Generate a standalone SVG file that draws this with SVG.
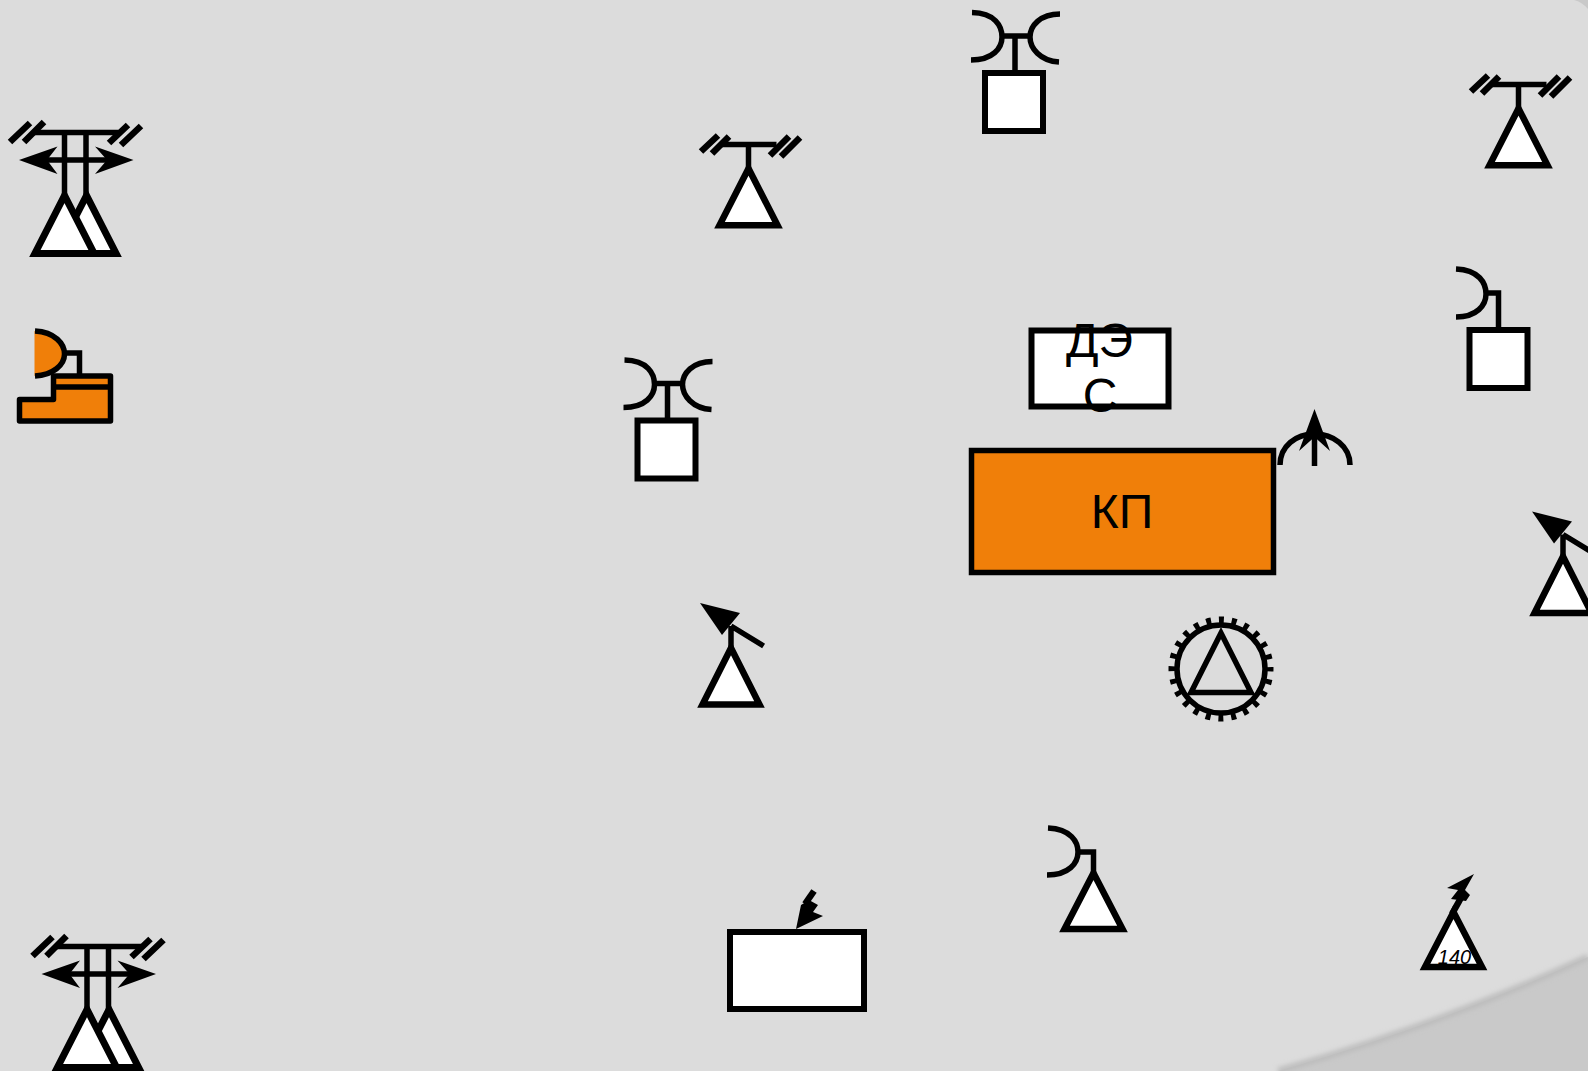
<svg xmlns="http://www.w3.org/2000/svg" width="1588" height="1071" viewBox="0 0 1588 1071">
<style>
.s{fill:none;stroke:#000;stroke-width:5.5}
.h{fill:none;stroke:#000;stroke-width:6.5}
.t{fill:#fff;stroke:#000;stroke-width:6.5}
.d{fill:#fff;stroke:#000;stroke-width:7}
.o{fill:#f07f09;stroke:#000;stroke-width:5.5}
.w{fill:#fff;stroke:#000;stroke-width:6}
.k{fill:#000;stroke:none}
.x{font-family:"Liberation Sans",Arial,sans-serif;font-size:48px;fill:#000;text-anchor:middle}
</style>
<defs>
<filter id="b" x="-10%" y="-10%" width="120%" height="120%"><feGaussianBlur stdDeviation="2.500"/></filter>
<g id="bar">
<path class="s" d="M-28 0H28"/>
<path class="h" d="M-47.500 7L-30.500 -9M-36.500 9L-19.500 -8M21.500 11L40.500 -8M32.500 12L51.500 -7"/>
</g>
<g id="tower">
<use href="#bar"/>
<path class="s" d="M0 0V27"/>
<path class="t" d="M0 24L-29 80.700H29Z"/>
</g>
<g id="double">
<path class="s" d="M-31 0H54"/>
<path class="h" d="M-54.500 9.500L-34.500 -9.500M-40.500 9.500L-20.500 -10.500M44.500 10.500L63.500 -7.500M56.500 12.500L76.500 -6.500"/>
<path class="s" d="M0 0V64M21.500 0V64"/>
<path class="s" d="M-20 27.500H45"/>
<path class="k" d="M-45.500 27.500L-7 14L-17.500 27.500L-7 41.500ZM69 27.500L30.500 14L42.500 27.500L30.500 41.500Z"/>
<path class="d" d="M22 63L-7.600 121H51.600Z"/>
<path class="d" d="M0 63L-29.600 121H29.600Z"/>
</g>
<g id="dishbox">
<path class="s" d="M-43 -23.500C-20 -23 -13 -10 -13 1C-13 12 -22 24 -44 24"/>
<path class="s" d="M45 -22C25 -22 15 -10 15 1C15 12 25 25 44 26"/>
<path class="s" d="M-13 0H15M0 0V36"/>
<rect class="w" x="-30" y="37" width="58" height="58"/>
</g>
<g id="arrow">
<path class="s" d="M0 23V46M0 23L32.600 43"/>
<path class="k" d="M-31 0L9 10L-9 32Z"/>
<path class="t" d="M0 45L-28.500 101.500H28.500Z"/>
</g>
</defs>
<rect width="1588" height="1071" fill="#dcdcdc"/>
<g id="page-curl">
<path d="M1278 1071Q1440 1025 1588 957V1071Z" fill="#c9c9c9"/>
<path d="M1278 1071Q1440 1025 1588 957" fill="none" stroke="#bcbcbc" stroke-width="6" filter="url(#b)"/>
<path d="M1574 0Q1582 2 1588 9V0Z" fill="#c9c9c9"/>
</g>
<g id="connectors"></g>
<g id="radar-double-1"><use href="#double" x="64.500" y="132.500"/></g>
<g id="radar-double-2"><use href="#double" x="87" y="946.500"/></g>
<g id="tower-1"><use href="#tower" x="748.500" y="144.500"/></g>
<g id="tower-2"><use href="#tower" x="1518.500" y="84.500"/></g>
<g id="dish-1"><use href="#dishbox" x="1015" y="36"/></g>
<g id="dish-2"><use href="#dishbox" x="667.500" y="383.500"/></g>
<g id="dish-3">
<path class="s" d="M1456 269C1479 270 1486 283 1486 294C1486 305 1477 317 1456 317"/>
<path class="s" d="M1486 293H1498.500V329"/>
<rect class="w" x="1469.500" y="330" width="58" height="58"/>
</g>
<g id="orange-base">
<path d="M34.500 331C55 332 64 344 64 354C64 365 53 375 34.500 376Z" fill="#f07f09"/>
<path class="s" d="M35 331C55 332 64.500 344 64.500 354C64.500 365 53 375 35 376"/>
<path class="s" d="M64 353H79.500V376"/>
<path class="o" stroke-linejoin="round" d="M19.500 399.500H53.500V376H110.500V421H19.500Z"/>
<path class="s" d="M53.500 387H110.500"/>
</g>
<g id="des">
<rect class="w" x="1031.500" y="330.500" width="137" height="76"/>
<text class="x" x="1099.500" y="357">ДЭ</text>
<text class="x" x="1100" y="412">С</text>
</g>
<g id="kp">
<rect class="o" x="971.500" y="450.500" width="302" height="122"/>
<text class="x" x="1122" y="528">КП</text>
</g>
<g id="up-arrow">
<path class="s" d="M1280 465C1280 446 1296 434 1314.500 434C1333 434 1350 446 1350 465"/>
<path class="s" d="M1314.500 430V466"/>
<path class="k" d="M1314.500 409L1330 451L1314.500 437L1299 451Z"/>
</g>
<g id="gear">
<circle class="s" cx="1221" cy="669" r="44"/>
<circle cx="1221" cy="669" r="49" fill="none" stroke="#000" stroke-width="7" stroke-dasharray="5 7.830" stroke-dashoffset="2.500"/>
<path class="s" d="M1221 633L1191 692.500H1251Z"/>
</g>
<g id="arrow-1"><use href="#arrow" x="731" y="603"/></g>
<g id="arrow-2"><use href="#arrow" x="1563" y="511.500"/></g>
<g id="power-box">
<rect class="w" x="730" y="932" width="134" height="77"/>
<path class="h" d="M814 891L805 904"/>
<path class="k" d="M796 929L801 905L809 900L818 905L813 912L823 916Z"/>
</g>
<g id="dish-triangle">
<path class="s" d="M1048 828C1071 829 1078 842 1078 852C1078 863 1069 875 1047 875"/>
<path class="s" d="M1078 852H1093.500V878"/>
<path class="t" d="M1093.500 873L1064.500 929H1122.500Z"/>
</g>
<g id="triangle-140">
<path class="h" d="M1452 914L1462 896"/>
<path class="k" d="M1474 874L1447 888L1458 890L1451 899L1466 901L1470 895L1465 890Z"/>
<path class="t" d="M1453.500 912L1425 967H1482Z"/>
<text x="1454.500" y="964" font-family="'Liberation Sans',Arial,sans-serif" font-size="20" font-style="italic" text-anchor="middle">140</text>
</g>
</svg>
